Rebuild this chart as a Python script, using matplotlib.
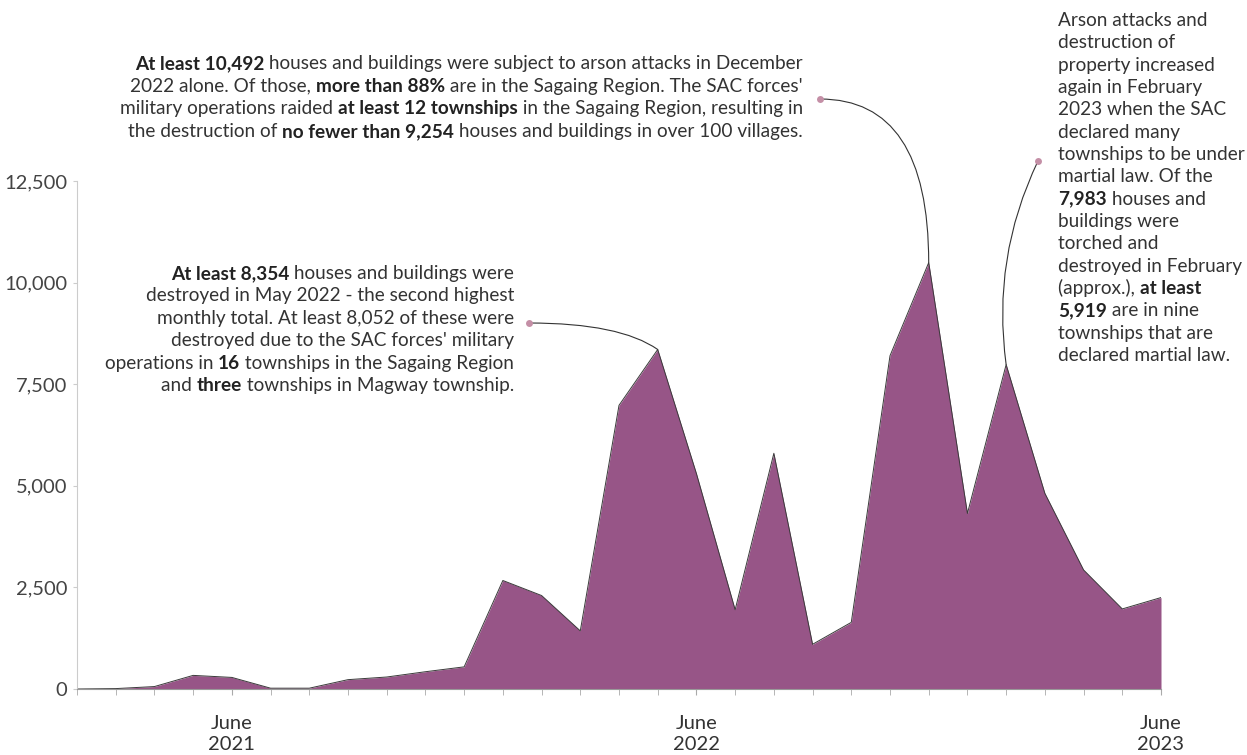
import numpy as np
import matplotlib.pyplot as plt

plt.rcParams['font.family'] = ['Lato', 'DejaVu Sans']

# monthly count of houses and buildings destroyed by arson
months = ['Feb 2021', 'Mar 2021', 'Apr 2021', 'May 2021', 'Jun 2021', 'Jul 2021',
          'Aug 2021', 'Sep 2021', 'Oct 2021', 'Nov 2021', 'Dec 2021', 'Jan 2022',
          'Feb 2022', 'Mar 2022', 'Apr 2022', 'May 2022', 'Jun 2022', 'Jul 2022',
          'Aug 2022', 'Sep 2022', 'Oct 2022', 'Nov 2022', 'Dec 2022', 'Jan 2023',
          'Feb 2023', 'Mar 2023', 'Apr 2023', 'May 2023', 'Jun 2023']
houses = [0, 10, 60, 335, 285, 20, 20, 230, 295, 425, 545, 2670,
          2300, 1430, 6980, 8354, 5300, 1950, 5800, 1100, 1640, 8200,
          10492, 4320, 7983, 4815, 2930, 1970, 2250]

tick_months = ['Jun 2021', 'Jun 2022', 'Jun 2023']
tick_labels = ['June\n2021', 'June\n2022', 'June\n2023']
y_ticks = [0, 2500, 5000, 7500, 10000, 12500]

note_may = ['**At least 8,354** houses and buildings were',
            'destroyed in May 2022 - the second highest',
            'monthly total. At least 8,052 of these were',
            "destroyed due to the SAC forces' military",
            'operations in **16** townships in the Sagaing Region',
            'and **three** townships in Magway township.']
note_dec = ['**At least 10,492** houses and buildings were subject to arson attacks in December',
            '2022 alone. Of those, **more than 88%** are in the Sagaing Region. The SAC forces\'',
            'military operations raided **at least 12 townships** in the Sagaing Region, resulting in',
            'the destruction of **no fewer than 9,254** houses and buildings in over 100 villages.']
note_feb = ['Arson attacks and', 'destruction of', 'property increased',
            'again in February', '2023 when the SAC', 'declared many',
            'townships to be under', 'martial law. Of the',
            '**7,983** houses and', 'buildings were', 'torched and',
            'destroyed in February', '(approx.), **at least**',
            '**5,919** are in nine', 'townships that are', 'declared martial law.']

W, H = 1247, 755
purple = '#975587'
text_c = '#333333'
dot_c = '#c48fa6'

fig = plt.figure(figsize=(W / 100, H / 100), dpi=100)
ax = fig.add_axes([77 / W, (H - 689) / H, (1161 - 77) / W, 508 / H])

x = np.arange(len(months))
ax.fill_between(x, houses, color=purple, lw=0)
ax.plot(x, houses, color='#3a3a3a', lw=0.7)
ax.set_xlim(0, len(months) - 1)
ax.set_ylim(0, 12500)

ax.set_xticks(x, minor=True)
ax.set_xticks([months.index(m) for m in tick_months])
ax.set_xticklabels(tick_labels, fontsize=14.5, color=text_c, linespacing=1.25)
ax.set_yticks(y_ticks)
ax.set_yticklabels(['{:,}'.format(v) for v in y_ticks], fontsize=14.5, color='#444444')
ax.tick_params(axis='x', which='both', length=4, color='#aaaaaa', pad=15)
ax.tick_params(axis='y', length=3, color='#cccccc', pad=4)
for s in ['top', 'right']:
    ax.spines[s].set_visible(False)
ax.spines['left'].set_color('#cccccc')
ax.spines['bottom'].set_color('#999999')

renderer = fig.canvas.get_renderer()
FS = 13.7


def width(s, weight):
    t = fig.text(0, 0, '|' + s + '|', fontsize=FS, fontweight=weight)
    w = t.get_window_extent(renderer).width
    t.set_text('||')
    w -= t.get_window_extent(renderer).width
    t.remove()
    return w


def note(lines, x0, y0, step, ha):
    for i, line in enumerate(lines):
        parts = line.split('**')
        segs = [(p, 'bold' if k % 2 else 'normal') for k, p in enumerate(parts) if p]
        ws = [width(p, wt) for p, wt in segs]
        xs = x0 - sum(ws) if ha == 'right' else x0
        yb = y0 + i * step
        for (p, wt), w in zip(segs, ws):
            fig.text(xs / W, 1 - yb / H, p, fontsize=FS, fontweight=wt,
                     color='#222222' if wt == 'bold' else text_c, va='baseline')
            xs += w


note(note_may, 514, 279, 22.4, 'right')
note(note_dec, 803, 69, 22.7, 'right')
note(note_feb, 1058, 26, 22.33, 'left')


def link(month, dot, style):
    i = months.index(month)
    fx, fy = dot[0] / W, 1 - dot[1] / H
    ax.annotate('', xy=(i, houses[i]), xycoords='data',
                xytext=(fx, fy), textcoords='figure fraction',
                arrowprops=dict(arrowstyle='-', color='#333333', lw=0.8,
                                connectionstyle=style, shrinkA=0, shrinkB=0))
    fig.add_artist(plt.Line2D([fx], [fy], marker='o', ms=5, color=dot_c, mec='none'))


link('May 2022', (529, 323), 'angle3,angleA=0,angleB=-35')
link('Dec 2022', (820, 99), 'angle3,angleA=0,angleB=90')
link('Feb 2023', (1038, 161), 'arc3,rad=0.15')

fig.savefig('out.png', dpi=100)
